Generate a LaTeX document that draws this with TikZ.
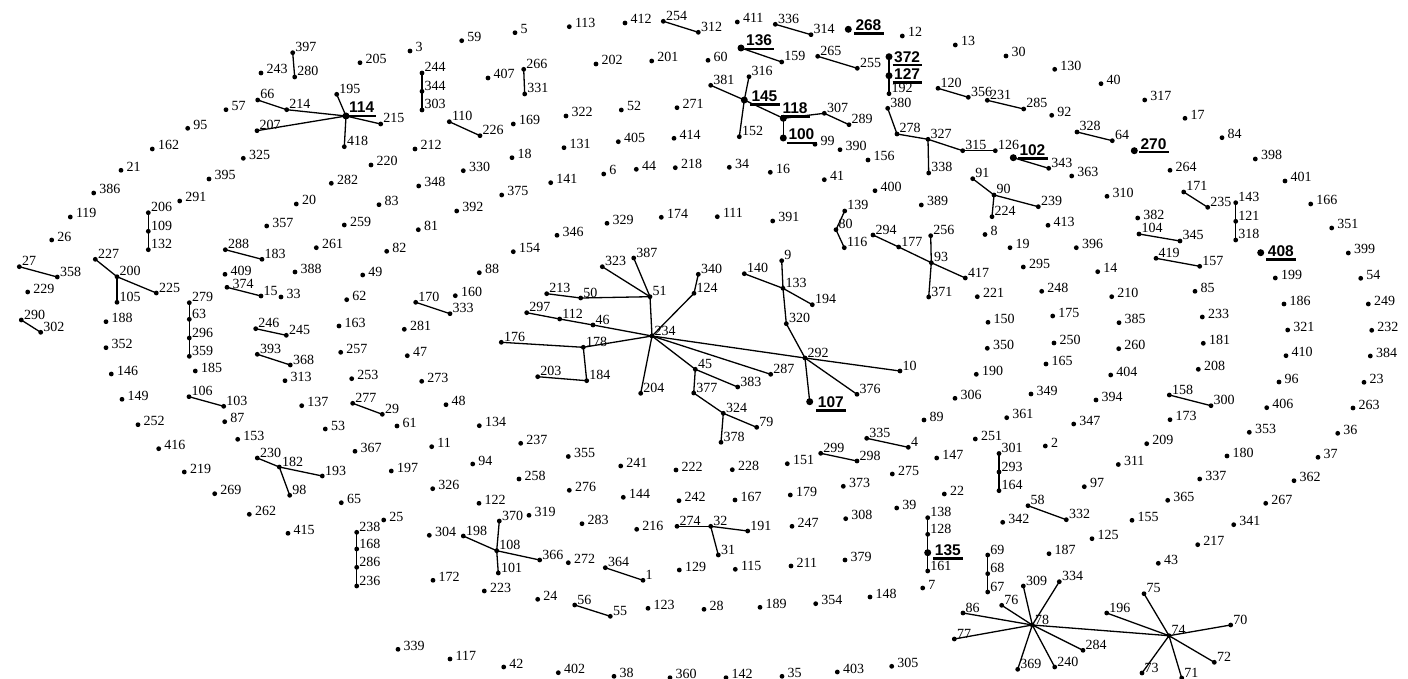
\documentclass[tikz,border=0pt]{standalone}
\usepackage{fontspec}
\setmainfont{Liberation Serif}
\newfontfamily\boldsans{Liberation Sans}
\tikzset{
 dotS/.style={circle, fill=black, inner sep=0pt, minimum size=4.8pt},
 dotB/.style={circle, fill=black, inner sep=0pt, minimum size=7pt},
 lblS/.style={anchor=base west, inner sep=0pt, font=\fontsize{14}{15}\selectfont},
 lblB/.style={anchor=base west, inner sep=0pt, font=\boldsans\bfseries\fontsize{15.5}{16}\selectfont},
 edge/.style={line width=1.3pt},
 uline/.style={line width=2.6pt}
}
\begin{document}
\begin{tikzpicture}[x=1pt,y=-1pt]
\useasboundingbox[fill=white] (0,0) rectangle (1408,679);
% isolated nodes (label beside the dot)
\foreach \nm/\px/\py in {
243/261/73, 57/226/109.7, 95/187.7/128.3, 162/152.3/149, 325/243.3/158.3, 21/121/170.3, 395/209/179, 282/331.3/183.3, 386/93.7/193, 291/179.7/201, 20/296.3/204, 119/70.3/217, 357/266.7/226, 26/51.7/240, 259/344.3/225,
205/360/62.7, 3/410/51, 59/461.7/40.7, 5/515/32.7, 113/569.3/26.7, 412/625/23, 407/488/78, 202/596/64, 201/651.7/61, 60/708/60.3, 169/513.3/124, 322/566/116, 52/621.3/110, 271/677/107.7, 212/415/149, 220/371/165, 18/512/157.7, 131/564/147.7, 405/618.3/141.7, 414/674/138.3, 330/463.3/170.7, 348/418.7/186, 83/379/204.7, 375/501.7/195, 141/550.7/182.7, 6/603.7/174, 44/636.3/169.3, 218/675.3/167.7, 392/456.7/211, 81/418.3/229.7, 346/557/235.3, 329/607/223.3, 174/661.3/217.3,
411/737.3/22, 12/902.3/36, 13/955.3/45, 30/1006/56, 99/815/144.3, 390/840/149.7, 156/868/160, 34/729.3/167.3, 16/770.3/172.3, 41/824.3/179.7, 400/875/190.7, 389/921.3/205, 111/717.3/216.7, 391/772.7/221, 8/985/234.5, 413/1048/225.3, 92/1051.7/115.3, 363/1071.7/176, 130/1054.7/69.3,
40/1101/83.7, 317/1144.7/100, 17/1185/118.3, 84/1222/137.7, 398/1255.3/159, 401/1285/181, 166/1310.7/204, 351/1331.7/228, 264/1170/170.3, 310/1107/196.3, 382/1137.7/218,
229/27.7/292, 188/106/321.7, 352/106/347.7, 146/111.3/374, 149/122/399.3, 252/138/424.7, 416/158.7/448.7, 185/195.3/371, 87/224.7/421.7, 153/237.7/439.3, 409/225/274.3, 374/227/287.3, 33/281/297, 388/295/272, 261/316.3/247.7, 313/285/380.7, 137/301.7/405.7, 53/325.3/429,
82/386.7/251.3, 154/513.3/251.7, 49/362.7/275, 88/479.3/272.7, 62/346.7/299.7, 160/455.3/295.7, 163/339/326, 281/404.3/329.3, 257/340.7/352.3, 47/407.3/355.7, 253/351.7/378.7, 273/421.7/381.3, 48/446/404.7, 61/397/426, 134/479.3/425.7, 367/355/451.3, 11/431.7/446.7, 237/520.7/443.3, 355/568.3/456.5, 94/472.7/464,
19/1010/247.7, 295/1023.3/267, 221/977.3/296.7, 248/1041.7/291.3, 150/988/322.3, 350/987.3/348.3, 190/976.3/374.3, 306/955/398.3, 349/1031/394, 361/1006.7/417.7, 89/924/420, 251/975.3/439, 2/1045.3/446, 151/787.3/463.7, 147/936.7/458, 228/732.3/469.7,
396/1076.3/247.7, 399/1348.3/253, 14/1097.7/271.7, 199/1275.3/278, 54/1360.7/278.3, 210/1111.7/296.7, 85/1195/291.3, 186/1284/304, 249/1368.3/304, 175/1052.7/316, 385/1119/322.7, 233/1202.3/317, 321/1287.7/330, 232/1371.7/330.3, 250/1054/343, 260/1118.7/348.7, 181/1203.3/343.3, 410/1286/355.7, 384/1370.3/356, 165/1046/364, 404/1110.7/375, 208/1198.3/369.3, 96/1279/382, 23/1364/382.3, 394/1096/400, 406/1266.7/407.7, 263/1353/408, 347/1073.7/424, 173/1170/419.7, 353/1249.3/432.3, 36/1337.7/433.3, 209/1146.7/443.7, 180/1227/456, 37/1318/457.3, 311/1118.3/464.5,
219/184.3/472, 269/214.7/493.7, 262/249.3/514.3, 415/288/533.3, 65/341.3/502.7,
197/391.3/471, 241/620.7/466, 222/676/470, 326/432.7/488.7, 258/519/479, 276/569.3/490.3, 144/623.3/497.3, 242/679/500.7, 122/479/503.3, 25/383.7/520, 319/529/515.3, 283/582/523.7, 216/636.7/529.3, 304/429.3/535.3, 272/568.3/562.7, 129/679.3/570, 172/433/580.3, 223/484.3/591, 24/537.7/599.3, 123/648/608.3, 339/398/649.3, 117/450/659, 42/503.7/667, 402/558.3/672.7, 38/614/676.3, 360/670/677.7,
275/892.3/474, 167/735/500, 179/790.3/495, 373/843.3/486.3, 22/944.3/494, 39/896.7/508, 247/792/526.3, 308/845.7/518.7, 342/1002.7/522.3, 115/735.3/569.3, 211/791/566, 379/845/560, 7/922.7/588, 148/870/597, 28/704/609.3, 189/760/607.3, 354/815.7/603.7, 142/726/677.7, 35/782/676.3, 403/837.3/672, 305/891.7/666.3, 187/1049/553.7,
97/1084.3/486.7, 337/1199.7/479, 362/1294/480.7, 365/1167.7/500.3, 267/1265.7/503.3, 155/1132/520.3, 341/1233.7/524.7, 125/1092/538.7, 217/1197.7/544.7, 43/1158.3/563.3}
{\node[dotS] (n\nm) at (\px,\py) {}; \node[lblS, xshift=5.5pt, yshift=-1pt] (l\nm) at (\px,\py) {\nm};}
% connected nodes (label up-right)
\foreach \nm/\px/\py in {
397/292.7/52.7, 280/294.7/77, 66/257.7/100, 214/286.7/109.7, 195/336.7/94.3, 207/257/130.7, 418/344.3/146.7, 215/380.7/124, 206/148.3/212.7, 109/148.3/231.3, 132/148.3/249.7,
254/663.3/21.3, 312/698.3/32.3, 244/422/73, 344/422/91.3, 303/422/110, 266/523.7/69.3, 331/524.7/94, 110/449.3/121.7, 226/480/135.7,
336/775.3/24.3, 314/811/34.7, 159/781.7/62, 265/817.7/56.3, 255/857.3/68.3, 192/889/93.7, 381/710.7/85.3, 316/749/76.7, 152/739.3/136.7, 307/824.3/113.3, 289/849/124.7,
380/887.7/108.3, 278/897/134, 327/928/139.3, 338/928.7/173, 315/962.7/150.7, 126/995.3/150.7, 343/1048.7/168.3, 120/938/88.3, 356/968.3/97.3, 231/987.3/100.3, 285/1023.7/109,
91/972.7/178.7, 90/994/195, 239/1038.3/206.7, 224/992/216.7, 139/844.7/211, 80/836/229.7, 116/844.3/247.7, 294/873/235, 177/898.7/247, 256/930.7/235.7, 93/931.3/262.7, 417/965.3/278, 371/928.7/297,
328/1077/132, 64/1112.3/140.7, 171/1183.7/192, 235/1207.7/207.3, 143/1235.7/202.7, 121/1235.7/221.3, 318/1235.7/240, 104/1139/234, 345/1180/241, 419/1156/258.3, 157/1199.7/266.3,
227/95.3/259.3, 200/117/276.7, 225/156.3/293, 105/117/302.3, 27/19.3/266.7, 358/57.3/277, 290/21.3/320, 302/40.7/332.3, 279/189.3/302.7, 63/189.3/319.3, 296/189.3/338, 359/189.3/356.3, 106/189/396.7, 103/223.7/406.3,
288/225.3/249.7, 183/262/259.3, 15/261/296, 246/255.7/328.7, 245/286.3/335.3, 393/257.3/354.3, 368/290.3/365, 170/415.7/302.3, 333/450/313.7, 277/352.7/403.3, 29/382.3/414.3,
323/602.3/266.7, 387/633.7/258, 51/650/296.7, 213/546.7/293.7, 50/580.7/298, 297/526.7/312.7, 112/559.7/319, 46/593/325, 234/652/336, 176/501.3/342.3, 178/583.3/347.3, 203/537.7/376.7, 184/586.7/380.7, 204/640.7/393.3, 340/698.3/274.3, 124/694/293.3, 45/695.3/369.3, 377/693.7/393,
9/781.7/260.7, 140/744.3/273.7, 133/783/288.3, 194/812.3/304.7, 320/786.3/323.7, 292/805/358, 10/900/371, 287/770.7/374.3, 383/737.7/387, 376/857/394.3, 324/723.3/413.3, 79/756.7/427.3, 378/721/442.3,
335/866.7/438.3, 4/908.3/447.3, 299/820.7/453.3, 298/857/461, 301/999/453.5, 293/999/472, 164/999/490.7, 158/1169.3/395, 300/1211/405.7,
230/257.3/458, 182/279.3/467, 193/322.3/476, 98/289.7/495.3, 238/356.7/532.3, 168/356.7/549, 286/356.7/567.3, 236/356.7/586,
370/499.3/521, 274/677/526.3, 198/463.3/536, 108/496.7/550.7, 366/539.7/560, 101/498.3/573, 364/605.3/567.7, 1/643/580.3, 56/574.7/605, 55/610.3/616.3, 32/710.7/526.3, 191/747.7/531, 31/718.3/555,
138/927.7/517.7, 128/927.7/534.3, 161/927.7/571, 58/1028/505.7, 332/1066.3/519.7, 69/987.7/555, 68/987.7/573.7, 67/987.7/592,
309/1023.3/586, 76/1001.7/605.3, 86/963/613, 78/1032.3/625, 77/954.3/639, 369/1017.7/669.3, 334/1059.3/581.7, 75/1144/593.7, 196/1106.7/613, 70/1230.7/625, 74/1169/635.7, 284/1083/650.3, 72/1214.3/662.3, 240/1054.7/667, 73/1142/673, 71/1181.7/678}
{\node[dotS] (n\nm) at (\px,\py) {}; \node[lblS, xshift=2.5pt, yshift=1pt] (l\nm) at (\px,\py) {\nm};}
% highlighted nodes
\foreach \nm/\px/\py/\dx/\dy in {
114/346/116/3/3, 268/848.3/29.3/7/-1, 136/741/48/5/2, 145/744.3/100/7/-1.5, 118/783.3/118.3/-1/5, 100/783.3/138/5/-2, 372/889/56.7/5/-5.5, 127/889/75.7/5/-4, 102/1013.3/157.7/6/2, 270/1134.3/150.7/6/1.5, 408/1260.7/252.7/7/-4, 107/809.7/401.7/8/-6, 135/927.7/552.7/7/-3}
{\node[dotB] (n\nm) at (\px,\py) {};
 \node[lblB, xshift=\dx pt, yshift=\dy pt] (l\nm) at (\px,\py) {\nm};
 \draw[uline] ([xshift=-1.5pt,yshift=-3pt]l\nm.base west) -- ([xshift=2pt,yshift=-3pt]l\nm.base east);}
% connectors
\foreach \a/\b in {
397/280, 66/214, 214/114, 195/114, 207/114, 418/114, 114/215, 206/109, 109/132,
254/312, 244/344, 344/303, 266/331, 110/226, 336/314, 136/159, 265/255, 372/127, 127/192,
381/145, 316/145, 152/145, 145/118, 118/100, 118/307, 307/289,
380/278, 278/327, 327/338, 327/315, 315/126, 102/343, 120/356, 231/285, 328/64, 171/235, 143/121, 121/318, 104/345, 419/157,
91/90, 90/239, 90/224, 139/80, 80/116, 294/177, 177/93, 93/417, 256/93, 93/371,
227/200, 200/225, 200/105, 27/358, 290/302, 288/183, 374/15, 279/63, 63/296, 296/359, 246/245, 393/368, 106/103, 277/29, 170/333,
323/51, 387/51, 213/50, 50/51, 51/234, 297/112, 112/46, 46/234, 176/178, 178/234, 178/184, 203/184, 234/204, 234/124, 124/340, 234/45, 45/383, 45/377, 377/324, 324/79, 324/378, 234/287, 234/292,
140/133, 133/194, 9/133, 133/320, 320/292, 292/10, 292/376, 292/107,
335/4, 299/298, 301/293, 293/164, 158/300, 230/182, 182/193, 182/98, 238/168, 168/286, 286/236,
198/108, 108/366, 370/108, 108/101, 364/1, 56/55, 274/32, 32/191, 32/31,
138/128, 128/135, 135/161, 58/332, 69/68, 68/67,
309/78, 334/78, 76/78, 86/78, 77/78, 369/78, 240/78, 284/78, 78/74,
75/74, 196/74, 70/74, 72/74, 71/74, 73/74}
{\draw[edge] (n\a.center) -- (n\b.center);}
\end{tikzpicture}
\end{document}
